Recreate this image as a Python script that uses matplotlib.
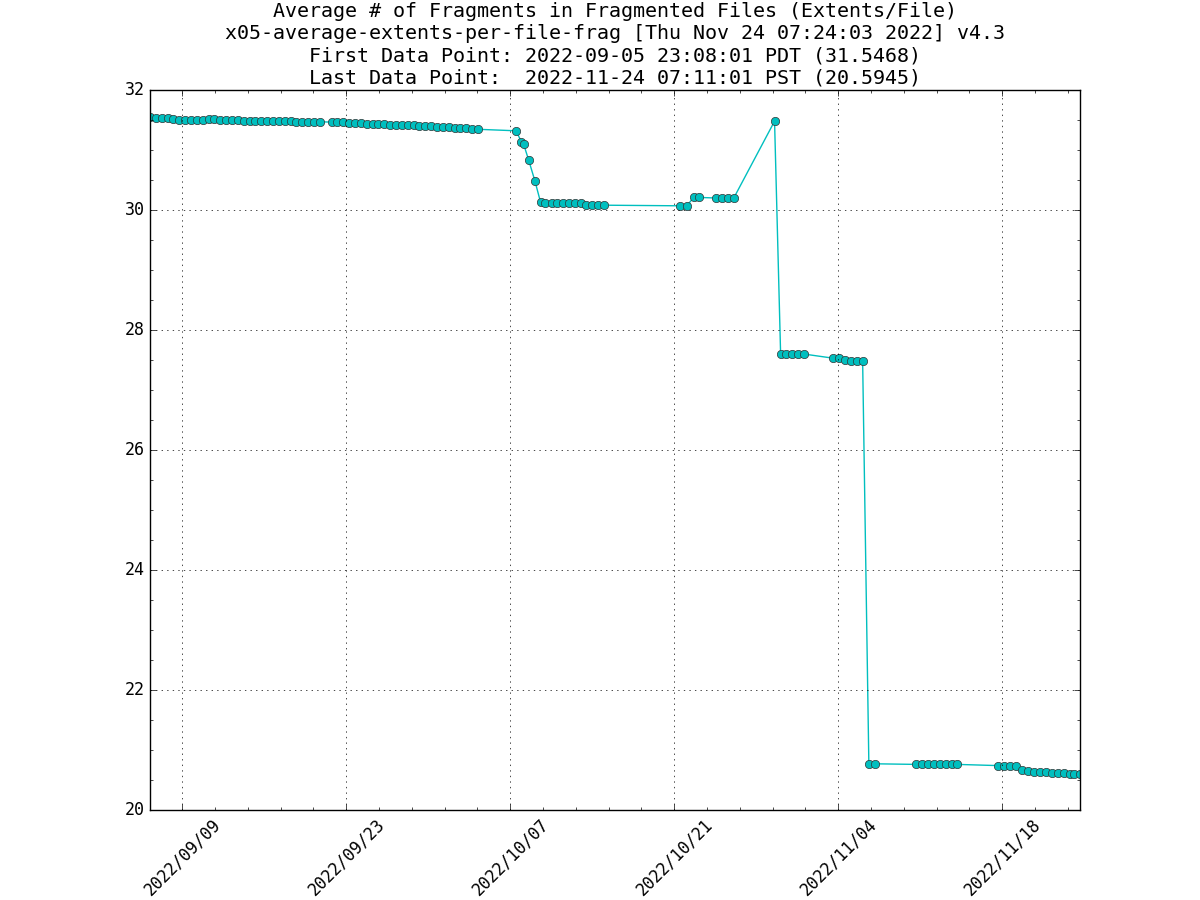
import matplotlib
matplotlib.use('Agg')
import matplotlib.pyplot as plt
import matplotlib.dates as mdates
from matplotlib.ticker import AutoMinorLocator
import pandas as pd

plt.style.use('classic')
plt.rcParams['font.family'] = ['DejaVu Sans Mono']

# sample times (UTC) and average extents per fragmented file
times_a = [
    "2022-09-06 06:08", "2022-09-06 18:08", "2022-09-07 06:08", "2022-09-07 18:08",
    "2022-09-08 06:08", "2022-09-08 18:08", "2022-09-09 06:08", "2022-09-09 18:08",
    "2022-09-10 06:08", "2022-09-10 18:08", "2022-09-11 06:08", "2022-09-11 18:08",
    "2022-09-12 06:08", "2022-09-12 18:08", "2022-09-13 06:08", "2022-09-13 18:08",
    "2022-09-14 06:08", "2022-09-14 18:08", "2022-09-15 06:08", "2022-09-15 18:08",
    "2022-09-16 06:08", "2022-09-16 18:08", "2022-09-17 06:08", "2022-09-17 18:08",
    "2022-09-18 06:08", "2022-09-18 18:08", "2022-09-19 06:08", "2022-09-19 18:08",
    "2022-09-20 06:08", "2022-09-20 18:08",
    "2022-09-21 18:08", "2022-09-22 06:08", "2022-09-22 18:08", "2022-09-23 06:08",
    "2022-09-23 18:08", "2022-09-24 06:08", "2022-09-24 18:08", "2022-09-25 06:08",
    "2022-09-25 18:08", "2022-09-26 06:08", "2022-09-26 18:08", "2022-09-27 06:08",
    "2022-09-27 18:08", "2022-09-28 06:08", "2022-09-28 18:08", "2022-09-29 06:08",
    "2022-09-29 18:08", "2022-09-30 06:08", "2022-09-30 18:08", "2022-10-01 06:08",
    "2022-10-01 18:08", "2022-10-02 06:08", "2022-10-02 18:08", "2022-10-03 06:08",
    "2022-10-03 18:08", "2022-10-04 06:08",
]
values_a = [
    31.5468, 31.535, 31.535, 31.535, 31.52, 31.50, 31.50, 31.50, 31.50, 31.505,
    31.51, 31.51, 31.505, 31.50, 31.50, 31.495, 31.49, 31.49, 31.49, 31.485,
    31.485, 31.485, 31.48, 31.48, 31.48, 31.475, 31.475, 31.475, 31.47, 31.47,
    31.465, 31.465, 31.46, 31.455, 31.45, 31.445, 31.44, 31.435, 31.43, 31.43,
    31.425, 31.42, 31.42, 31.415, 31.41, 31.405, 31.40, 31.395, 31.39, 31.385,
    31.38, 31.37, 31.365, 31.36, 31.355, 31.345,
]
times_b = [
    "2022-10-07 12:15", "2022-10-07 22:30", "2022-10-08 03:20", "2022-10-08 13:30",
    "2022-10-09 02:25", "2022-10-09 14:10", "2022-10-09 23:45", "2022-10-10 12:40",
    "2022-10-11 00:15", "2022-10-11 12:40", "2022-10-12 01:00", "2022-10-12 13:10",
    "2022-10-13 00:45", "2022-10-13 12:15", "2022-10-14 00:00", "2022-10-14 12:15",
    "2022-10-15 00:40",
    "2022-10-21 12:15", "2022-10-22 02:00", "2022-10-22 15:40", "2022-10-23 02:25",
    "2022-10-24 12:40", "2022-10-25 01:00", "2022-10-25 13:25", "2022-10-26 01:40",
    "2022-10-29 13:30",
    "2022-10-30 01:55", "2022-10-30 13:30", "2022-10-31 01:00", "2022-10-31 12:40",
    "2022-11-01 01:00",
    "2022-11-03 13:40", "2022-11-04 00:45", "2022-11-04 13:00", "2022-11-05 01:10",
    "2022-11-05 13:30", "2022-11-06 01:55",
    "2022-11-06 14:40", "2022-11-07 03:50",
    "2022-11-10 15:50", "2022-11-11 04:05", "2022-11-11 16:30", "2022-11-12 04:50",
    "2022-11-12 17:00", "2022-11-13 05:15", "2022-11-13 17:30", "2022-11-14 03:50",
    "2022-11-17 15:05", "2022-11-18 03:20", "2022-11-18 15:35", "2022-11-19 03:50",
    "2022-11-19 16:10", "2022-11-20 04:30", "2022-11-20 16:50", "2022-11-21 05:00",
    "2022-11-21 17:20", "2022-11-22 05:45", "2022-11-22 18:00", "2022-11-23 06:15",
    "2022-11-23 18:30", "2022-11-24 03:11", "2022-11-24 15:11",
]
values_b = [
    31.32, 31.14, 31.10, 30.84, 30.49, 30.13, 30.125, 30.12, 30.115, 30.115,
    30.115, 30.115, 30.11, 30.085, 30.08, 30.08, 30.08,
    30.07, 30.07, 30.21, 30.21, 30.20, 30.195, 30.195, 30.195,
    31.48,
    27.60, 27.60, 27.60, 27.60, 27.60,
    27.53, 27.53, 27.50, 27.49, 27.49, 27.49,
    20.77, 20.77,
    20.76, 20.76, 20.76, 20.76, 20.76, 20.76, 20.76, 20.76,
    20.74, 20.74, 20.74, 20.735,
    20.67, 20.655, 20.64, 20.635, 20.63, 20.625, 20.62, 20.61, 20.605, 20.60, 20.5945,
]
tick_dates = ["2022-09-09", "2022-09-23", "2022-10-07", "2022-10-21", "2022-11-04", "2022-11-18"]

title = ("Average # of Fragments in Fragmented Files (Extents/File)\n"
         "x05-average-extents-per-file-frag [Thu Nov 24 07:24:03 2022] v4.3\n"
         "First Data Point: 2022-09-05 23:08:01 PDT (31.5468)\n"
         "Last Data Point:  2022-11-24 07:11:01 PST (20.5945)")

t = pd.to_datetime(times_a + times_b)
v = values_a + values_b

fig = plt.figure(figsize=(12, 9), dpi=100)
ax = fig.add_subplot(111)
ax.plot(t, v, color='c', marker='o', markersize=6, linewidth=1.0,
        markeredgecolor='#333333', markeredgewidth=0.5)
ax.set_xlim(t[0], t[-1])
ax.set_ylim(20, 32)
ax.set_xticks(pd.to_datetime(tick_dates))
ax.xaxis.set_major_formatter(mdates.DateFormatter('%Y/%m/%d'))
ax.xaxis.set_minor_locator(AutoMinorLocator(5))
ax.yaxis.set_minor_locator(AutoMinorLocator(4))
ax.grid(True)
plt.setp(ax.get_xticklabels(), rotation=45, ha='center')
ax.set_title(title, fontsize=14.4)

fig.savefig('out.png', dpi=100)
